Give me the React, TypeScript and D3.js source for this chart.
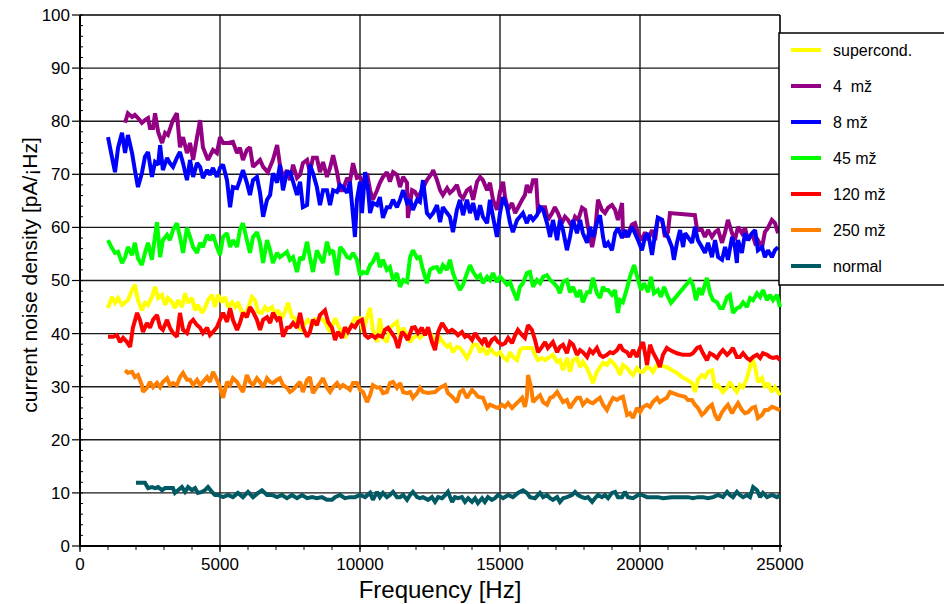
import React from "react";
import * as d3 from "d3";

type Pt = [number, number];

const seriesNames = ["supercond.", "4  mž", "8 mž", "45 mž", "120 mž", "250 mž", "normal"];
const seriesColors = ["#ffff00", "#930083", "#0000ff", "#00ff00", "#ff0000", "#ff8000", "#005a64"];

const xTicks = [0, 5000, 10000, 15000, 20000, 25000];
const yTicks = [0, 10, 20, 30, 40, 50, 60, 70, 80, 90, 100];

const supercond: Pt[] = [[1000,44.8],[1140,46.9],[1250,45.8],[1360,46.7],[1500,45.4],[1610,45.9],[1710,46.3],[1860,48.2],[1960,49.2],[2070,46.3],[2210,44.4],[2320,45.8],[2430,45.4],[2570,46.9],[2680,48.8],[2790,46.7],[2930,47.3],[3040,45.4],[3140,46.7],[3290,45.9],[3390,44.8],[3500,46.3],[3640,45.0],[3750,47.6],[3860,45.8],[4000,46.7],[4110,44.4],[4210,45.4],[4360,43.9],[4460,44.8],[4570,46.3],[4710,47.3],[4820,45.0],[4930,47.3],[5070,45.9],[5180,46.9],[5290,45.0],[5430,45.9],[5540,45.0],[5640,45.9],[5790,43.9],[5890,43.1],[6000,44.8],[6140,46.9],[6250,46.3],[6360,44.1],[6500,43.9],[6610,45.0],[6710,44.4],[6860,45.0],[6960,43.5],[7070,44.4],[7210,42.9],[7320,44.1],[7430,45.8],[7570,43.1],[7680,42.9],[7790,41.2],[7930,40.7],[8040,42.0],[8140,42.6],[8290,41.6],[8390,42.9],[8500,42.0],[8570,43.1],[8750,42.2],[8930,40.3],[9110,42.9],[9210,41.6],[9360,40.1],[9460,39.2],[9640,41.1],[9820,42.9],[10000,42.9],[10110,40.3],[10250,43.1],[10360,44.8],[10460,40.7],[10610,38.4],[10710,42.9],[10820,39.2],[10960,38.4],[11070,41.1],[11180,41.6],[11320,42.2],[11430,39.2],[11540,41.1],[11680,39.7],[11790,38.4],[11890,39.2],[12040,39.7],[12140,39.2],[12250,39.7],[12390,40.3],[12500,40.1],[12610,39.2],[12750,38.2],[12860,39.2],[12960,38.4],[13110,37.5],[13210,37.9],[13320,36.5],[13460,37.5],[13570,37.3],[13680,36.5],[13820,35.4],[13930,36.5],[14040,37.9],[14180,37.9],[14290,36.5],[14390,37.3],[14540,36.0],[14640,37.3],[14750,36.5],[14890,36.0],[15000,36.5],[15110,35.6],[15250,35.0],[15360,36.5],[15460,35.6],[15610,35.0],[15710,36.9],[15820,37.3],[15960,37.3],[16140,37.3],[16250,36.0],[16360,35.0],[16500,35.4],[16610,35.0],[16890,36.0],[17040,34.7],[17140,35.0],[17250,33.1],[17390,35.4],[17500,32.8],[17610,35.0],[17750,35.4],[17860,33.7],[17960,34.7],[18110,33.5],[18210,32.2],[18320,30.7],[18460,32.8],[18570,33.7],[18680,34.5],[18820,34.1],[18930,35.0],[19040,34.5],[19180,33.5],[19290,32.2],[19390,34.1],[19540,33.5],[19640,32.8],[19750,32.2],[19890,33.5],[20000,32.8],[20110,32.8],[20250,33.7],[20360,33.5],[20460,32.8],[20610,34.1],[20960,33.7],[21140,33.1],[21320,32.6],[21500,31.8],[21680,31.3],[21860,30.7],[21960,29.0],[22070,31.3],[22210,32.2],[22320,31.8],[22430,32.8],[22570,33.1],[22680,29.8],[22790,30.3],[22960,29.0],[23110,29.8],[23210,30.9],[23320,29.9],[23460,29.0],[23570,30.3],[23680,29.9],[23820,31.6],[23930,33.7],[24000,35.6],[24110,33.7],[24210,30.9],[24360,31.6],[24460,29.8],[24570,30.7],[24710,29.0],[24820,29.9],[25000,28.4]];

const mOhm4: Pt[] = [[1610,79.7],[1710,81.5],[1860,80.8],[1960,81.2],[2070,80.6],[2210,79.7],[2320,80.2],[2430,80.6],[2500,78.7],[2610,78.7],[2680,81.5],[2790,78.0],[2930,75.9],[3040,77.8],[3140,77.4],[3320,80.2],[3460,81.5],[3570,75.1],[3680,77.0],[3820,74.0],[3930,75.9],[4040,72.7],[4180,77.0],[4290,80.2],[4390,75.1],[4570,72.7],[4750,74.6],[4890,74.0],[5000,77.0],[5110,75.9],[5290,75.9],[5460,76.1],[5610,74.0],[5710,75.0],[5820,72.7],[5960,74.6],[6070,75.1],[6180,71.4],[6430,72.7],[6540,71.4],[6710,70.4],[6890,72.7],[7040,75.5],[7140,71.8],[7250,69.3],[7390,70.8],[7500,68.9],[7610,71.8],[7750,69.3],[7860,69.9],[7960,72.1],[8110,72.7],[8210,70.4],[8320,73.1],[8460,73.1],[8570,70.4],[8680,72.3],[8820,69.5],[8930,71.2],[9040,73.6],[9180,70.4],[9290,67.0],[9390,67.0],[9540,69.3],[9640,68.6],[9750,72.1],[9890,69.3],[10000,69.5],[10110,68.4],[10250,70.2],[10360,67.0],[10460,65.2],[10610,67.0],[10710,68.4],[10820,69.5],[10960,70.4],[11070,68.6],[11180,70.4],[11320,69.9],[11430,67.6],[11540,69.5],[11680,68.4],[11710,61.8],[11860,67.0],[11960,66.7],[12070,65.7],[12210,67.0],[12390,68.9],[12570,70.2],[12610,70.8],[12750,68.9],[12860,67.0],[12960,66.1],[13110,67.4],[13210,66.5],[13320,67.0],[13460,68.0],[13570,66.1],[13680,65.5],[13820,67.0],[13930,67.4],[14040,65.2],[14180,68.6],[14290,69.5],[14390,68.9],[14540,67.0],[14640,68.4],[14750,65.2],[14890,63.3],[15000,66.7],[15110,68.6],[15180,65.7],[15290,63.3],[15430,64.6],[15540,62.7],[15640,63.7],[15790,65.2],[15890,66.1],[15960,68.0],[16070,66.5],[16180,68.9],[16290,68.9],[16360,62.7],[16500,63.8],[16610,63.8],[16710,61.4],[16860,62.7],[16960,63.8],[17070,62.7],[17210,60.8],[17320,62.0],[17430,61.4],[17570,60.1],[17680,62.0],[17790,61.4],[17930,63.7],[18040,63.3],[18140,60.1],[18290,56.3],[18390,58.9],[18500,65.2],[18640,63.3],[18750,62.7],[18860,63.7],[19000,64.2],[19110,63.3],[19210,61.4],[19360,64.6],[19390,59.5],[19460,58.2],[19570,58.9],[19710,60.5],[19820,60.8],[19930,58.9],[20070,57.6],[20180,59.1],[20290,57.6],[20430,59.5],[20540,57.6],[20640,61.8],[20790,61.4],[20890,58.2],[21000,59.1],[21070,62.7],[21960,62.3],[22040,59.5],[22210,59.5],[22320,58.2],[22430,59.5],[22570,58.2],[22680,59.1],[22790,59.5],[22930,57.1],[23040,59.1],[23140,61.4],[23290,58.9],[23390,57.6],[23500,60.1],[23640,58.9],[23750,59.9],[23860,57.6],[24000,58.9],[24110,57.1],[24210,57.6],[24360,56.3],[24460,59.1],[24570,59.9],[24710,61.4],[24820,60.8],[24930,58.9]];

const mOhm8: Pt[] = [[1000,77.0],[1140,73.3],[1250,70.4],[1360,75.0],[1500,77.8],[1610,74.0],[1710,77.4],[1860,74.0],[1960,70.8],[2070,67.6],[2210,70.2],[2320,73.3],[2430,74.2],[2570,69.5],[2680,72.3],[2790,71.8],[2860,75.5],[2960,70.8],[3110,73.1],[3210,72.1],[3320,71.4],[3460,73.1],[3570,74.2],[3680,72.1],[3820,68.9],[3930,72.7],[4040,69.5],[4180,72.1],[4290,71.4],[4390,69.3],[4540,70.8],[4640,69.9],[4750,71.2],[4890,69.5],[5000,71.2],[5110,71.8],[5250,68.9],[5360,63.8],[5460,67.6],[5610,67.4],[5710,68.9],[5820,70.8],[5960,68.4],[6070,66.1],[6180,68.9],[6320,69.5],[6430,66.5],[6540,62.0],[6680,65.2],[6790,66.1],[6890,70.2],[7040,68.4],[7140,71.8],[7250,67.0],[7390,70.4],[7500,70.4],[7610,68.6],[7750,66.1],[7860,68.6],[7960,63.8],[8110,64.2],[8210,71.8],[8320,70.2],[8460,67.6],[8570,64.2],[8680,67.0],[8820,67.0],[8930,64.2],[9040,67.0],[9180,66.7],[9290,68.0],[9390,67.6],[9540,66.5],[9640,68.6],[9750,62.3],[9820,58.2],[9890,65.2],[10000,68.6],[10070,62.7],[10180,70.4],[10290,67.0],[10360,62.7],[10460,64.6],[10610,64.2],[10710,65.7],[10820,61.8],[10960,63.8],[11070,63.8],[11180,65.2],[11320,63.8],[11430,65.2],[11540,67.0],[11680,64.6],[11790,65.2],[11890,63.3],[12040,65.2],[12140,64.8],[12250,68.9],[12390,62.7],[12500,62.0],[12610,62.7],[12750,64.2],[12860,61.0],[12960,63.8],[13110,62.7],[13210,62.0],[13320,59.1],[13460,63.3],[13570,65.2],[13680,62.3],[13820,65.2],[13930,62.7],[14040,64.6],[14180,61.4],[14290,64.2],[14390,62.0],[14540,60.8],[14640,65.2],[14750,62.0],[14890,58.2],[15000,62.7],[15110,65.7],[15250,63.8],[15360,60.8],[15460,59.1],[15610,61.4],[15710,62.0],[15820,62.7],[15960,60.8],[16070,62.3],[16180,61.4],[16320,62.3],[16430,63.8],[16540,63.3],[16680,60.8],[16790,58.2],[16890,61.4],[17040,57.6],[17140,61.4],[17250,59.5],[17390,55.7],[17500,58.2],[17610,61.4],[17750,58.9],[17860,61.4],[17960,58.9],[18110,57.1],[18210,60.1],[18320,58.2],[18460,60.8],[18570,62.3],[18680,58.2],[18750,56.3],[18860,57.1],[19000,55.7],[19110,58.9],[19210,59.9],[19360,58.0],[19460,59.5],[19570,58.2],[19710,60.1],[19820,58.9],[19930,57.6],[20070,55.7],[20180,58.2],[20290,58.9],[20430,54.8],[20540,58.9],[20640,61.8],[20790,61.4],[20890,58.9],[21000,58.2],[21140,56.3],[21210,53.9],[21320,57.1],[21430,59.5],[21540,56.3],[21610,58.9],[21710,58.2],[21860,57.1],[21960,60.1],[22070,57.6],[22210,56.3],[22320,55.2],[22430,57.1],[22570,54.4],[22680,57.6],[22790,54.4],[22930,53.9],[23040,56.3],[23140,53.9],[23290,58.2],[23390,56.3],[23460,53.3],[23500,57.6],[23640,55.2],[23750,58.9],[23860,57.6],[24000,58.9],[24110,59.5],[24210,55.7],[24360,56.3],[24460,54.4],[24570,55.7],[24710,54.4],[24820,55.7],[24930,56.3]];

const mOhm45: Pt[] = [[1000,57.6],[1140,56.1],[1250,55.2],[1360,55.4],[1500,53.3],[1610,54.4],[1710,56.3],[1860,54.8],[1960,57.1],[2070,54.2],[2210,52.9],[2320,55.2],[2430,57.1],[2570,53.9],[2610,55.7],[2750,61.0],[2860,54.4],[2960,57.6],[3110,58.6],[3210,57.6],[3320,59.5],[3460,60.8],[3570,58.2],[3680,55.2],[3820,59.9],[3930,58.2],[4040,56.3],[4180,55.2],[4290,57.1],[4390,56.3],[4540,58.6],[4640,57.6],[4750,58.6],[4890,56.3],[5000,54.8],[5110,58.2],[5250,58.9],[5360,56.3],[5460,57.6],[5610,56.3],[5710,59.5],[5820,60.8],[5960,57.6],[6070,55.2],[6180,58.2],[6320,59.1],[6430,57.1],[6540,53.3],[6680,57.6],[6790,55.7],[6890,53.3],[7040,55.2],[7140,54.4],[7250,54.8],[7390,55.4],[7500,53.9],[7610,54.4],[7750,51.6],[7860,54.4],[7960,53.9],[8110,57.3],[8210,54.4],[8320,51.6],[8460,55.7],[8570,54.4],[8680,53.3],[8820,57.3],[8930,55.2],[9040,55.7],[9180,51.0],[9290,56.3],[9390,55.7],[9540,54.4],[9640,54.2],[9750,55.2],[9890,53.9],[10000,51.0],[10110,51.6],[10250,51.4],[10360,52.9],[10460,53.5],[10610,55.2],[10710,52.5],[10820,53.9],[10960,52.0],[11070,52.5],[11180,50.1],[11320,51.4],[11430,48.8],[11540,50.1],[11680,49.7],[11790,54.4],[11890,55.7],[12040,54.2],[12140,54.4],[12250,52.0],[12390,49.5],[12500,52.0],[12610,52.4],[12750,52.5],[12860,51.4],[12960,52.9],[13110,52.0],[13210,53.9],[13320,51.4],[13460,49.5],[13570,48.2],[13680,49.2],[13820,51.4],[13930,52.9],[14040,51.6],[14180,50.5],[14290,51.0],[14390,49.5],[14540,50.7],[14640,50.1],[14750,51.4],[14890,49.7],[15000,50.7],[15110,50.1],[15250,49.2],[15360,49.7],[15460,48.2],[15610,46.3],[15710,48.8],[15820,49.5],[15960,51.4],[16070,51.6],[16180,48.8],[16320,50.1],[16430,49.5],[16540,50.7],[16680,51.0],[16790,50.1],[16890,49.7],[17040,48.8],[17140,47.6],[17250,49.7],[17390,50.1],[17500,47.8],[17610,48.8],[17750,46.9],[17860,48.2],[17960,45.9],[18110,47.8],[18210,47.8],[18320,50.5],[18460,47.6],[18570,46.7],[18680,48.8],[18750,48.2],[18860,48.2],[19000,47.3],[19110,48.2],[19210,43.9],[19290,46.3],[19390,45.9],[19540,48.6],[19640,50.7],[19790,52.9],[19930,50.1],[20040,48.2],[20140,49.5],[20290,47.8],[20390,50.7],[20500,47.6],[20640,48.2],[20750,46.9],[20860,48.8],[21000,46.9],[21110,45.8],[21790,50.1],[21890,49.2],[22000,46.3],[22110,48.6],[22210,47.3],[22390,50.5],[22500,47.6],[22610,46.3],[22750,45.9],[22860,44.8],[22960,44.8],[23110,46.9],[23210,47.3],[23320,43.9],[23460,44.8],[23570,45.0],[23680,45.9],[23820,45.0],[23930,46.7],[24040,46.3],[24180,47.6],[24290,46.9],[24390,48.2],[24540,46.3],[24640,47.3],[24750,46.3],[24890,47.3],[25000,45.0]];

const mOhm120: Pt[] = [[1000,39.4],[1180,39.4],[1320,39.7],[1430,38.4],[1540,39.2],[1680,38.4],[1790,37.5],[1890,41.1],[2040,43.9],[2140,42.6],[2250,40.3],[2390,42.0],[2500,41.1],[2610,42.6],[2750,43.5],[2860,41.2],[2960,40.7],[3110,42.6],[3210,41.1],[3320,40.1],[3460,39.4],[3570,43.9],[3680,40.7],[3820,40.1],[3930,42.0],[4040,42.6],[4180,41.6],[4290,41.1],[4390,40.1],[4540,41.1],[4640,39.7],[4750,40.3],[4890,41.2],[5000,42.6],[5110,43.9],[5250,42.2],[5360,44.8],[5460,42.6],[5610,40.7],[5710,42.0],[5820,43.9],[5960,43.1],[6070,45.0],[6180,44.1],[6320,42.6],[6430,40.7],[6540,42.6],[6680,43.1],[6790,42.0],[6890,43.9],[7040,42.6],[7140,43.1],[7250,39.4],[7390,41.1],[7500,41.2],[7610,42.0],[7750,41.1],[7860,43.9],[7960,41.2],[8110,39.4],[8210,40.3],[8320,42.6],[8460,41.6],[8570,43.5],[8750,44.4],[8860,42.2],[9000,41.1],[9110,38.8],[9210,40.3],[9360,39.2],[9460,41.2],[9570,40.3],[9710,41.6],[9820,41.2],[9930,42.2],[10070,42.6],[10180,39.7],[10290,39.2],[10430,39.7],[10540,39.2],[10640,39.7],[10790,39.4],[10890,40.7],[11000,41.1],[11140,40.1],[11250,39.2],[11360,37.3],[11500,40.3],[11610,39.7],[11710,38.8],[11860,41.1],[11960,41.2],[12070,40.1],[12210,41.1],[12320,39.7],[12430,41.2],[12570,38.4],[12680,36.9],[12790,40.3],[12930,42.0],[13040,41.1],[13140,40.3],[13290,40.7],[13390,40.3],[13500,39.7],[13640,40.3],[13750,39.4],[13860,39.7],[14000,38.8],[14110,40.1],[14210,39.2],[14360,38.2],[14460,39.2],[14570,37.5],[14710,38.8],[14820,39.2],[14930,38.4],[15070,37.9],[15180,38.2],[15290,39.2],[15430,38.2],[15540,39.7],[15640,40.7],[15790,39.7],[15890,39.2],[16000,41.6],[16140,40.7],[16250,38.8],[16360,36.5],[16500,37.5],[16610,38.4],[16710,37.3],[16890,38.4],[17040,36.5],[17140,37.5],[17250,37.9],[17390,36.3],[17500,38.4],[17610,37.9],[17750,36.0],[17860,36.9],[17960,36.5],[18110,35.6],[18210,36.9],[18320,36.3],[18460,37.3],[18570,36.0],[18680,35.6],[18820,36.0],[18930,36.5],[19040,36.3],[19180,36.9],[19290,37.9],[19390,36.9],[19540,36.5],[19640,35.6],[19750,36.9],[19890,35.6],[20000,37.3],[20110,38.4],[20250,34.1],[20360,37.9],[20460,36.5],[20610,35.0],[20710,33.7],[20820,36.0],[20960,37.3],[21070,36.9],[21320,36.3],[21540,36.0],[21790,36.0],[21890,36.3],[22040,37.3],[22140,37.5],[22250,36.3],[22390,35.0],[22500,36.3],[22610,36.0],[22750,35.4],[22860,36.3],[22960,36.9],[23110,36.0],[23210,36.5],[23320,37.3],[23460,35.6],[23570,35.6],[23680,36.3],[23820,35.4],[23930,35.0],[24040,35.6],[24180,36.0],[24290,35.4],[24390,36.3],[24540,36.0],[24640,35.6],[24750,35.4],[24890,35.6],[25000,35.0]];

const mOhm250: Pt[] = [[1610,33.1],[1710,32.6],[1860,32.8],[1960,31.8],[2070,32.2],[2210,30.3],[2250,29.0],[2390,29.8],[2500,30.9],[2610,29.9],[2750,30.7],[2860,29.9],[2960,30.9],[3110,31.6],[3210,30.3],[3320,30.7],[3460,30.3],[3570,31.8],[3680,32.6],[3820,31.3],[3930,31.3],[4040,30.3],[4180,31.3],[4290,30.3],[4390,30.9],[4540,31.8],[4640,30.9],[4750,32.8],[4890,31.3],[5000,29.9],[5110,27.9],[5250,30.9],[5360,30.3],[5460,31.6],[5610,30.9],[5710,29.9],[5820,29.0],[5960,32.2],[6070,30.9],[6180,30.3],[6320,31.6],[6430,30.9],[6540,29.9],[6680,31.6],[6790,30.9],[6890,30.7],[7040,31.3],[7140,31.6],[7250,30.3],[7390,29.8],[7500,29.0],[7610,29.4],[7750,30.3],[7860,30.9],[7960,29.0],[8110,31.3],[8210,31.8],[8320,28.8],[8460,29.9],[8570,30.7],[8680,31.6],[8820,29.8],[8930,29.0],[9040,29.9],[9180,30.7],[9290,29.8],[9390,30.3],[9540,29.8],[9640,29.4],[9750,30.7],[9890,30.7],[10000,29.4],[10110,29.0],[10250,27.1],[10360,28.4],[10460,30.3],[10610,29.8],[10710,29.9],[10820,28.8],[10960,29.0],[11070,30.7],[11180,30.9],[11320,29.8],[11430,30.7],[11540,29.0],[11680,28.8],[11790,29.0],[11890,27.9],[12040,28.8],[12140,29.8],[12250,29.0],[12430,28.8],[12680,29.0],[12860,29.8],[13040,30.3],[13140,28.8],[13290,28.1],[13460,27.1],[13570,29.0],[13680,29.4],[13820,27.9],[14000,29.4],[14110,28.8],[14210,28.1],[14390,27.9],[14540,26.0],[14640,26.6],[14820,26.2],[14930,26.0],[15070,26.6],[15180,26.2],[15290,26.9],[15430,26.0],[15540,26.6],[15640,27.1],[15790,27.9],[15890,26.2],[15960,28.1],[16000,32.2],[16110,29.9],[16180,27.1],[16320,27.9],[16430,28.4],[16540,27.1],[16680,26.6],[16790,27.9],[16890,28.1],[17040,29.0],[17140,28.1],[17250,27.1],[17390,27.5],[17500,26.0],[17610,26.9],[17750,27.9],[17860,27.9],[17960,26.6],[18110,27.5],[18210,27.1],[18320,26.9],[18460,27.5],[18570,27.9],[18680,26.6],[18820,25.6],[18930,26.9],[19040,27.9],[19180,27.5],[19290,27.9],[19390,28.1],[19540,24.7],[19640,25.0],[19750,24.1],[19890,26.0],[20000,25.2],[20110,26.2],[20250,26.6],[20360,26.2],[20460,27.1],[20610,27.9],[20710,27.1],[20820,27.5],[20960,27.9],[21070,29.0],[21360,28.4],[21610,28.1],[21710,27.5],[21860,27.5],[21960,26.6],[22070,26.0],[22210,24.7],[22320,25.2],[22430,26.0],[22570,26.6],[22680,24.7],[22790,23.7],[22930,25.2],[23040,26.0],[23140,26.6],[23290,25.0],[23390,26.0],[23500,26.9],[23640,25.6],[23750,25.0],[23860,25.2],[24000,26.0],[24110,26.2],[24210,24.1],[24360,24.7],[24460,25.6],[24570,25.6],[24710,26.2],[24820,26.0],[25000,25.6]];

const normal: Pt[] = [[2000,11.9],[2320,11.9],[2430,10.9],[2570,11.1],[2680,10.9],[2790,11.1],[2930,10.5],[3040,10.9],[3210,10.9],[3320,10.9],[3390,10.0],[3500,10.5],[3640,11.1],[3750,10.2],[3860,11.1],[4000,10.5],[4110,10.9],[4210,10.0],[4360,10.2],[4460,10.5],[4570,11.1],[4710,10.2],[4820,9.6],[4930,9.6],[5110,9.2],[5290,9.6],[5460,9.2],[5640,10.0],[5820,9.2],[6000,10.2],[6180,9.2],[6360,10.0],[6500,10.5],[6680,9.6],[6860,9.6],[7040,9.2],[7210,9.6],[7390,9.0],[7570,9.6],[7750,9.0],[7930,9.6],[8110,9.0],[8290,9.2],[8460,9.0],[8640,9.2],[8820,8.7],[9000,8.7],[9110,9.2],[9290,9.6],[9460,9.0],[9640,9.2],[9820,9.2],[10000,9.6],[10180,9.2],[10360,10.0],[10460,8.7],[10610,10.2],[10710,9.2],[10820,10.0],[10960,9.2],[11070,9.6],[11180,10.2],[11320,9.2],[11430,9.2],[11540,9.6],[11680,8.7],[11790,9.6],[11890,10.2],[12040,9.2],[12140,9.0],[12250,9.2],[12430,8.7],[12570,9.2],[12680,8.3],[12790,9.2],[12930,9.0],[13040,9.6],[13140,10.2],[13290,8.3],[13390,9.2],[13500,9.0],[13640,9.2],[13750,8.3],[13860,9.0],[14000,8.3],[14110,9.0],[14210,8.1],[14360,9.0],[14460,8.3],[14570,9.2],[14710,8.7],[14820,9.0],[14930,9.6],[15110,9.0],[15290,9.6],[15460,9.2],[15640,10.0],[15820,10.5],[15960,10.0],[16070,9.2],[16250,9.0],[16430,10.0],[16540,9.2],[16680,9.6],[16790,9.0],[16890,8.7],[17040,9.2],[17140,8.3],[17250,9.0],[17390,9.2],[17570,9.6],[17680,10.2],[17790,9.6],[17930,9.2],[18040,9.0],[18140,9.2],[18290,8.3],[18390,9.0],[18500,9.6],[18640,9.2],[18750,9.6],[18860,9.0],[19000,10.0],[19110,10.2],[19210,9.2],[19360,9.2],[19460,10.2],[19570,9.2],[19750,9.0],[19930,9.6],[20070,9.6],[20250,9.2],[20430,9.2],[20640,9.2],[20820,9.0],[21140,9.2],[21360,9.2],[21710,9.2],[21890,9.0],[22070,9.2],[22250,9.2],[22430,9.0],[22610,9.2],[22790,9.6],[22960,9.2],[23110,10.2],[23210,9.6],[23320,9.2],[23460,10.2],[23570,9.6],[23680,9.2],[23820,9.6],[23930,9.2],[24040,11.1],[24180,10.5],[24290,9.2],[24390,10.0],[24540,9.2],[24710,9.6],[24890,9.2],[25000,9.6]];

const allSeries: Pt[][] = [supercond, mOhm4, mOhm8, mOhm45, mOhm120, mOhm250, normal];

const W = 944;
const H = 604;
const FONT = "'Liberation Sans', Arial, Helvetica, sans-serif";

export default function App() {
  const x = d3.scaleLinear().domain([0, 25000]).range([80, 780]);
  const y = d3.scaleLinear().domain([0, 100]).range([546, 15]);
  const line = d3
    .line<Pt>()
    .x((d) => x(d[0]))
    .y((d) => y(d[1]));

  const xMinor = d3.range(0, 25001, 1000);
  const yMinor = d3.range(0, 101, 2);
  const gridY = yTicks.filter((t) => t > 0 && t < 100);
  const gridX = xTicks.filter((t) => t > 0 && t < 25000);

  const legX = 779;
  const legY = 33;
  const legRowH = 36;

  return (
    <svg
      width={W}
      height={H}
      style={{ position: "absolute", left: 0, top: 0, display: "block", background: "#fff" }}
      fontFamily={FONT}
    >
      <rect x={0} y={0} width={W} height={H} fill="#fff" />
      {/* grid */}
      {gridY.map((t) => (
        <line key={"gy" + t} x1={x(0)} x2={x(25000)} y1={y(t)} y2={y(t)} stroke="#1a1a1a" strokeWidth={1.4} />
      ))}
      {gridX.map((t) => (
        <line key={"gx" + t} x1={x(t)} x2={x(t)} y1={y(0)} y2={y(100)} stroke="#1a1a1a" strokeWidth={1.4} />
      ))}
      {/* frame */}
      <line x1={x(0)} x2={x(25000)} y1={y(100)} y2={y(100)} stroke="#000" strokeWidth={1.4} />
      <line x1={x(25000)} x2={x(25000)} y1={y(100)} y2={y(0)} stroke="#000" strokeWidth={1.6} />

      {/* series */}
      {allSeries.map((s, i) => (
        <path
          key={"s" + i}
          d={line(s) || ""}
          fill="none"
          stroke={seriesColors[i]}
          strokeWidth={4}
          strokeLinejoin="miter"
          strokeMiterlimit={2}
        />
      ))}

      {/* axes */}
      <line x1={x(0)} x2={x(0)} y1={y(0) + 1} y2={y(100)} stroke="#000" strokeWidth={2} />
      <line x1={x(0) - 1} x2={x(25000) + 2} y1={y(0)} y2={y(0)} stroke="#000" strokeWidth={2} />
      {yMinor.map((t) => (
        <line key={"ym" + t} x1={x(0)} x2={x(0) + 3} y1={y(t)} y2={y(t)} stroke="#000" strokeWidth={1} />
      ))}
      {yTicks.map((t) => (
        <g key={"yt" + t}>
          <line x1={x(0) - 8} x2={x(0)} y1={y(t)} y2={y(t)} stroke="#000" strokeWidth={1.2} />
          <text x={x(0) - 10} y={y(t)} dy="0.35em" textAnchor="end" fontSize={17} fill="#000">
            {t}
          </text>
        </g>
      ))}
      {xMinor.map((t) => (
        <line key={"xm" + t} x1={x(t)} x2={x(t)} y1={y(0)} y2={y(0) + 4} stroke="#000" strokeWidth={1} />
      ))}
      {xTicks.map((t) => (
        <g key={"xt" + t}>
          <line x1={x(t)} x2={x(t)} y1={y(0)} y2={y(0) + 6} stroke="#000" strokeWidth={1.2} />
          <text x={x(t)} y={y(0) + 24} textAnchor="middle" fontSize={17} fill="#000">
            {t}
          </text>
        </g>
      ))}

      {/* axis titles */}
      <text x={440} y={598} textAnchor="middle" fontSize={24} fill="#000">
        Frequency [Hz]
      </text>
      <text
        transform={`translate(37,${275}) rotate(-90)`}
        textAnchor="middle"
        fontSize={21}
        fill="#000"
      >
        current noise density [pA/¡Hz]
      </text>

      {/* legend */}
      <rect x={legX} y={legY} width={W - legX + 10} height={252} fill="#fff" stroke="#000" strokeWidth={1.5} />
      {seriesNames.map((n, i) => (
        <g key={"lg" + i}>
          <line
            x1={791}
            x2={821}
            y1={legY + 17 + i * legRowH}
            y2={legY + 17 + i * legRowH}
            stroke={seriesColors[i]}
            strokeWidth={4}
          />
          <text x={833} y={legY + 17 + i * legRowH} dy="0.35em" fontSize={16} fill="#000" xmlSpace="preserve">
            {n}
          </text>
        </g>
      ))}
    </svg>
  );
}
